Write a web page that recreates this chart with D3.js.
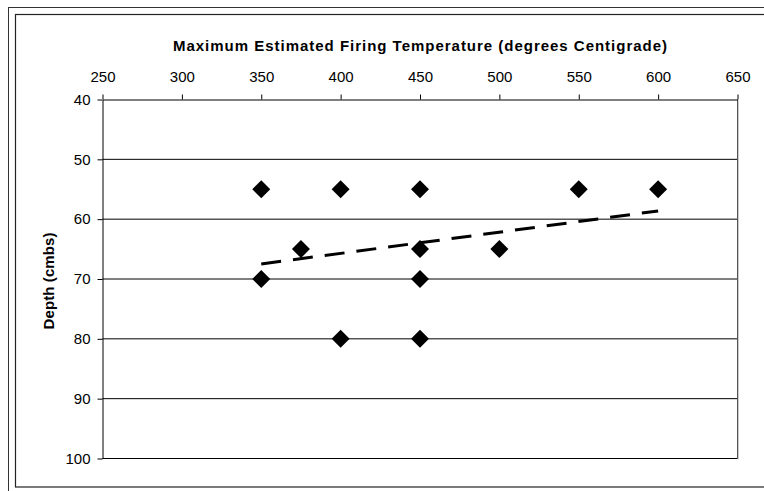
<!DOCTYPE html>
<html>
<head>
<meta charset="utf-8">
<script src="https://cdn.jsdelivr.net/npm/d3@7"></script>
<style>
  html, body { margin: 0; padding: 0; background: #fff; }
  svg { display: block; font-family: "Liberation Sans", Arial, sans-serif; }
</style>
</head>
<body>
<div id="chart"></div>
<script>
// firing temperature (deg C) vs depth (cmbs)
var temps  = [350, 400, 450, 550, 600, 375, 450, 500, 350, 450, 400, 450];
var depths = [55, 55, 55, 55, 55, 65, 65, 65, 70, 70, 80, 80];

var xTicks = [250, 300, 350, 400, 450, 500, 550, 600, 650];
var yTicks = [40, 50, 60, 70, 80, 90, 100];

var titleText = 'Maximum Estimated Firing Temperature (degrees Centigrade)';
var yLabelText = 'Depth (cmbs)';

(function () {
  var W = 764, H = 491;
  var plot = { left: 102.5, top: 99.5, right: 737.5, bottom: 458.5 };

  var svg = d3.select('#chart').append('svg')
    .attr('width', W)
    .attr('height', H);

  // double border round the chart (runs off the right / bottom edge)
  svg.append('rect')
    .attr('x', 8.5).attr('y', 7.5)
    .attr('width', 800).attr('height', 520)
    .attr('fill', 'none').attr('stroke', '#333').attr('stroke-width', 1);
  svg.append('rect')
    .attr('x', 15.5).attr('y', 14.5)
    .attr('width', 800).attr('height', 472.5)
    .attr('fill', 'none').attr('stroke', '#222').attr('stroke-width', 1.2);

  var x = d3.scaleLinear().domain([250, 650]).range([plot.left, plot.right]);
  var y = d3.scaleLinear().domain([40, 100]).range([plot.top, plot.bottom]);

  // gridlines
  svg.append('g')
    .selectAll('line')
    .data(yTicks.filter(function (d) { return d > 40 && d < 100; }))
    .join('line')
    .attr('x1', plot.left).attr('x2', plot.right)
    .attr('y1', function (d) { return y(d); })
    .attr('y2', function (d) { return y(d); })
    .attr('stroke', '#000').attr('stroke-width', 1);

  // plot frame: right edge grey with a faint shadow, bottom black
  svg.append('line')
    .attr('x1', plot.right + 1).attr('x2', plot.right + 1)
    .attr('y1', plot.top + 1).attr('y2', plot.bottom + 1)
    .attr('stroke', '#ccc');
  svg.append('line')
    .attr('x1', plot.right).attr('x2', plot.right)
    .attr('y1', plot.top).attr('y2', plot.bottom)
    .attr('stroke', '#555');
  svg.append('line')
    .attr('x1', plot.left).attr('x2', plot.right)
    .attr('y1', plot.bottom).attr('y2', plot.bottom)
    .attr('stroke', '#000');

  // top x axis
  var xAxis = d3.axisTop(x)
    .tickValues(xTicks)
    .tickSizeInner(5)
    .tickSizeOuter(0)
    .tickPadding(13);
  var gx = svg.append('g')
    .attr('transform', 'translate(0,' + plot.top + ')')
    .call(xAxis);
  gx.select('.domain').attr('stroke', '#000');
  gx.selectAll('.tick line').attr('stroke', '#000');
  gx.selectAll('.tick text')
    .attr('fill', '#000')
    .style('font-size', '15px')
    .style('font-family', '"Liberation Sans", Arial, sans-serif');

  // left y axis
  var yAxis = d3.axisLeft(y)
    .tickValues(yTicks)
    .tickSizeInner(5)
    .tickSizeOuter(0)
    .tickPadding(7);
  var gy = svg.append('g')
    .attr('transform', 'translate(' + plot.left + ',0)')
    .call(yAxis);
  gy.select('.domain').attr('stroke', '#000');
  gy.selectAll('.tick line').attr('stroke', '#000');
  gy.selectAll('.tick text')
    .attr('fill', '#000')
    .style('font-size', '15px')
    .style('font-family', '"Liberation Sans", Arial, sans-serif');

  // titles
  svg.append('text')
    .attr('x', (plot.left + plot.right) / 2)
    .attr('y', 51)
    .attr('text-anchor', 'middle')
    .attr('textLength', 494)
    .attr('lengthAdjust', 'spacing')
    .style('font-size', '15px')
    .style('font-weight', 'bold')
    .text(titleText);

  svg.append('text')
    .attr('transform', 'translate(54,' + ((plot.top + plot.bottom) / 2 + 2) + ') rotate(-90)')
    .attr('text-anchor', 'middle')
    .attr('textLength', 97)
    .attr('lengthAdjust', 'spacing')
    .style('font-size', '15px')
    .style('font-weight', 'bold')
    .text(yLabelText);

  // linear trend (least squares) over the data range
  var mx = d3.mean(temps), my = d3.mean(depths);
  var sxy = d3.sum(temps, function (t, i) { return (t - mx) * (depths[i] - my); });
  var sxx = d3.sum(temps, function (t) { return (t - mx) * (t - mx); });
  var slope = sxy / sxx;
  var icpt = my - slope * mx;
  var ext = d3.extent(temps);

  svg.append('path')
    .datum(ext)
    .attr('d', d3.line()
      .x(function (d) { return x(d); })
      .y(function (d) { return y(icpt + slope * d); }))
    .attr('fill', 'none')
    .attr('stroke', '#000')
    .attr('stroke-width', 3)
    .attr('stroke-dasharray', '20,12');

  // diamond markers
  var pts = temps.map(function (t, i) { return { t: t, d: depths[i] }; });
  svg.append('g')
    .selectAll('path')
    .data(pts)
    .join('path')
    .attr('d', d3.symbol().type(d3.symbolSquare).size(162))
    .attr('transform', function (p) {
      return 'translate(' + x(p.t) + ',' + y(p.d) + ') rotate(45)';
    })
    .attr('fill', '#000');
})();
</script>
</body>
</html>
